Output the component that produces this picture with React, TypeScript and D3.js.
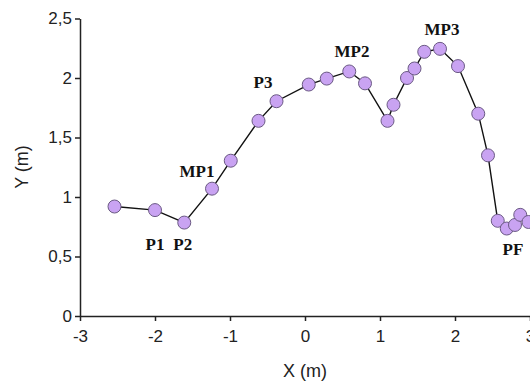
import React, { useEffect, useRef } from "react";
import * as d3 from "d3";

// profile points (m)
const xValues = [-2.54, -2.0, -1.61, -1.24, -0.99, -0.62, -0.38, 0.05, 0.29, 0.59, 0.8, 1.1, 1.18, 1.36, 1.46, 1.59, 1.8, 2.04, 2.31, 2.44, 2.57, 2.69, 2.8, 2.87, 2.98];
const yValues = [0.92, 0.89, 0.785, 1.07, 1.305, 1.64, 1.805, 1.945, 1.995, 2.055, 1.955, 1.64, 1.775, 2.0, 2.08, 2.22, 2.245, 2.1, 1.7, 1.35, 0.8, 0.735, 0.765, 0.85, 0.79];

// point labels, placed in data units
const labelNames = ["P1", "P2", "MP1", "P3", "MP2", "MP3", "PF"];
const labelX = [-2.0, -1.63, -1.44, -0.56, 0.627, 1.827, 2.773];
const labelY = [0.555, 0.555, 1.168, 1.916, 2.176, 2.361, 0.513];

const xTicks = [-3, -2, -1, 0, 1, 2, 3];
const yTicks = [0, 0.5, 1, 1.5, 2, 2.5];

export default function App() {
  const ref = useRef<SVGSVGElement>(null);

  useEffect(() => {
    const width = 530;
    const height = 384;
    const svg = d3.select(ref.current);
    svg.selectAll("*").remove();

    const x = d3.scaleLinear().domain([-3, 3]).range([80, 530]);
    const y = d3.scaleLinear().domain([0, 2.5]).range([316, 18.5]);

    const data = xValues.map((v, i) => ({ x: v, y: yValues[i] }));

    // axes
    const xAxis = svg.append("g")
      .attr("transform", `translate(0,${y(0)})`)
      .call(d3.axisBottom(x).tickValues(xTicks).tickSize(5).tickPadding(9).tickSizeOuter(0)
        .tickFormat(d => String(d)));
    const yAxis = svg.append("g")
      .attr("transform", `translate(${x(-3)},0)`)
      .call(d3.axisLeft(y).tickValues(yTicks).tickSize(5).tickPadding(3).tickSizeOuter(0)
        .tickFormat(d => String(d).replace(".", ",")));

    [xAxis, yAxis].forEach(g => {
      g.select(".domain").attr("stroke", "#222").attr("stroke-width", 1.5);
      g.selectAll(".tick line").attr("stroke", "#222").attr("stroke-width", 1.5);
      g.selectAll(".tick text")
        .attr("fill", "#222")
        .style("font-family", "'Liberation Sans', Arial, sans-serif")
        .style("font-size", "17px");
    });

    // axis titles
    svg.append("text")
      .attr("x", x(0))
      .attr("y", 377)
      .attr("text-anchor", "middle")
      .style("font-family", "'Liberation Sans', Arial, sans-serif")
      .style("font-size", "18px")
      .attr("fill", "#222")
      .text("X (m)");

    svg.append("text")
      .attr("transform", `translate(28,167) rotate(-90)`)
      .attr("text-anchor", "middle")
      .style("font-family", "'Liberation Sans', Arial, sans-serif")
      .style("font-size", "18px")
      .attr("fill", "#222")
      .text("Y (m)");

    // profile line
    const line = d3.line<{ x: number; y: number }>()
      .x(d => x(d.x))
      .y(d => y(d.y));

    svg.append("path")
      .datum(data)
      .attr("fill", "none")
      .attr("stroke", "#111")
      .attr("stroke-width", 1.4)
      .attr("d", line);

    svg.append("g")
      .selectAll("circle")
      .data(data)
      .join("circle")
      .attr("cx", d => x(d.x))
      .attr("cy", d => y(d.y))
      .attr("r", 6.5)
      .attr("fill", "#c9a3f2")
      .attr("stroke", "#6b5a84")
      .attr("stroke-width", 1);

    // labels
    svg.append("g")
      .selectAll("text")
      .data(labelNames)
      .join("text")
      .attr("x", (d, i) => x(labelX[i]))
      .attr("y", (d, i) => y(labelY[i]))
      .attr("text-anchor", "middle")
      .style("font-family", "'Liberation Serif', 'Times New Roman', serif")
      .style("font-weight", "bold")
      .style("font-size", "17px")
      .attr("fill", "#111")
      .text(d => d);

    svg.attr("width", width).attr("height", height);
  }, []);

  return (
    <div style={{ position: "fixed", left: 0, top: 0, background: "#fff" }}>
      <svg ref={ref} width={530} height={384} style={{ display: "block" }} />
    </div>
  );
}
